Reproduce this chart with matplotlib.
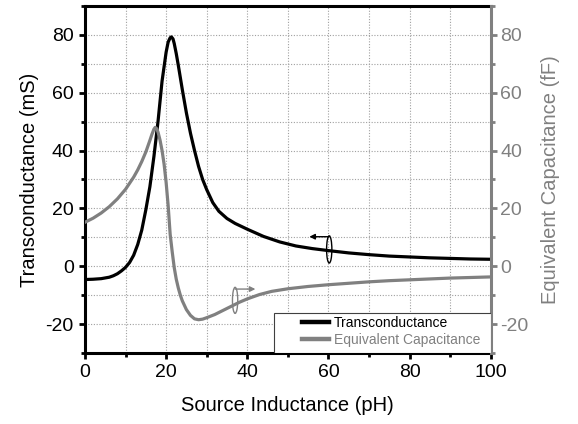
import numpy as np
import matplotlib.pyplot as plt
from matplotlib.patches import Ellipse, Rectangle

plt.rcParams['font.family'] = ['Liberation Sans', 'DejaVu Sans']
plt.rcParams['axes.unicode_minus'] = False

# %% data: source inductance sweep (pH)
gm_x = [0, 2, 4, 6, 7, 8, 9, 10, 11, 12, 13, 14, 15, 16, 17, 18, 19, 20, 20.5,
        21, 21.3, 21.7, 22, 22.5, 23, 24, 25, 26, 27, 28, 29, 30, 31.5, 33, 35,
        37, 40, 44, 48, 52, 56, 60, 65, 70, 75, 80, 85, 90, 95, 100]
gm = [-4.6, -4.5, -4.3, -3.8, -3.3, -2.6, -1.6, -0.4, 1.3, 3.8, 7.5, 12.5, 19.5,
      27.5, 38, 50, 64, 74, 77.5, 79, 79.3, 78.6, 77, 73.5, 69.5, 61, 53, 46,
      40, 34.5, 30, 26.5, 22, 19, 16.5, 14.8, 12.8, 10.3, 8.4, 7.0, 6.1, 5.4,
      4.6, 4.0, 3.5, 3.2, 2.9, 2.7, 2.5, 2.4]

cap_x = [0, 2, 4, 6, 8, 10, 12, 13, 14, 15, 16, 16.5, 17, 17.3, 17.6, 18, 18.5,
         19, 19.5, 20, 20.5, 21, 21.5, 22, 22.5, 23, 23.5, 24, 25, 26, 27, 28,
         29, 30, 32, 34, 36, 38, 40, 43, 46, 50, 55, 60, 65, 70, 75, 80, 85, 90,
         95, 100]
cap = [15.2, 16.6, 18.4, 20.6, 23.3, 26.6, 30.8, 33.3, 36.2, 39.5, 43.5, 45.6,
       47.4, 48, 47.7, 46.4, 43.6, 40, 35.3, 29, 21, 11, 5, -0.5, -4.5, -7.5,
       -10, -12, -15, -17, -18.2, -18.5, -18.3, -17.8, -16.7, -15.3, -13.9,
       -12.5, -11.3, -9.8, -8.7, -7.8, -7.0, -6.4, -5.9, -5.4, -5.0, -4.7, -4.4,
       -4.1, -3.9, -3.7]

xticks = [0, 20, 40, 60, 80, 100]
yticks = [-20, 0, 20, 40, 60, 80]

grey = '#808080'

# %% plot
fig = plt.figure(figsize=(5.78, 4.24), dpi=100)
ax = fig.add_axes([0.147, 0.1675, 0.702, 0.8185])
ax2 = ax.twinx()

l1, = ax.plot(gm_x, gm, color='black', lw=2.3, label='Transconductance', zorder=3)
l2, = ax2.plot(cap_x, cap, color=grey, lw=2.3, label='Equivalent Capacitance', zorder=3)

for a in (ax, ax2):
    a.set_xlim(0, 100)
    a.set_ylim(-30, 90)
    a.set_yticks(yticks)
    a.set_yticks(np.arange(-30, 91, 10), minor=True)

ax.set_xticks(xticks)
ax.set_xticks(np.arange(0, 101, 10), minor=True)

# dotted grid every 10 units
for gx in range(10, 100, 10):
    ax.axvline(gx, color='#a0a0a0', lw=0.8, ls=(0, (1, 1.5)), zorder=1)
for gy in range(-20, 90, 10):
    ax.axhline(gy, color='#a0a0a0', lw=0.8, ls=(0, (1, 1.5)), zorder=1)

for s in ('left', 'bottom', 'top'):
    ax.spines[s].set_linewidth(2.2)
ax.spines['right'].set_visible(False)
ax2.spines['right'].set_color(grey)
ax2.spines['right'].set_linewidth(2.2)
for s in ('left', 'bottom', 'top'):
    ax2.spines[s].set_visible(False)

ax.tick_params(axis='both', which='major', direction='out', length=4, width=2,
               labelsize=14, pad=4)
ax.tick_params(axis='both', which='minor', direction='out', length=3, width=2)
ax.tick_params(axis='x', which='both', top=False)
ax2.tick_params(axis='y', which='major', direction='out', length=4, width=2,
                labelsize=14, colors=grey, pad=3)
ax2.tick_params(axis='y', which='minor', direction='out', length=3, width=2,
                colors=grey)

ax.set_xlabel('Source Inductance (pH)', fontsize=14.5, labelpad=11)
ax.set_ylabel('Transconductance (mS)', fontsize=14.5, labelpad=5)
ax2.set_ylabel('Equivalent Capacitance (fF)', fontsize=14.5, color=grey, labelpad=9)

# axis markers: ellipse round each curve with an arrow to its axis
ax.add_patch(Ellipse((60.2, 5.8), 1.3, 9.4, fill=False, ec='black', lw=1.0, zorder=4))
ax.annotate('', xy=(55.3, 10.2), xytext=(60.2, 10.2),
            arrowprops=dict(arrowstyle='-|>', color='black', lw=1.0,
                            shrinkA=0, shrinkB=0, mutation_scale=8), zorder=4)
ax2.add_patch(Ellipse((37.0, -11.8), 1.3, 9.0, fill=False, ec=grey, lw=1.0, zorder=4))
ax2.annotate('', xy=(42.0, -7.9), xytext=(37.0, -7.9),
             arrowprops=dict(arrowstyle='-|>', color=grey, lw=1.0,
                             shrinkA=0, shrinkB=0, mutation_scale=8), zorder=4)

# legend box drawn separately so the entries sit inset from its left edge
ax2.add_patch(Rectangle((0.4655, 0.0), 0.5345, 0.115, transform=ax2.transAxes,
                        fc='white', ec='#404040', lw=0.8, zorder=5))
leg = ax2.legend([l1, l2], ['Transconductance', 'Equivalent Capacitance'],
                 loc='center left', bbox_to_anchor=(0.534, 0.0614),
                 fontsize=10, frameon=False, borderaxespad=0, borderpad=0,
                 handlelength=1.95, handletextpad=0.35, labelspacing=0.2)
leg.set_zorder(6)
for h in leg.legend_handles:
    h.set_linewidth(3.2)
leg.get_texts()[1].set_color(grey)

plt.savefig('out.png', dpi=100)
